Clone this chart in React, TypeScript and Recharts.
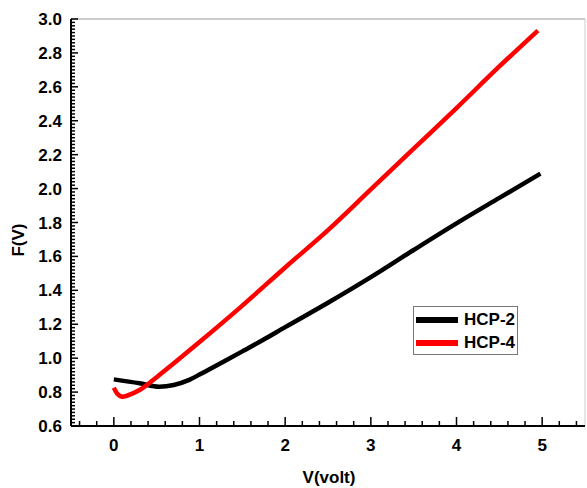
import { LineChart, Line, XAxis, YAxis, ReferenceLine } from "recharts";

// HCP-2 (black)
const hcp2V = [0, 0.3, 0.53, 0.7, 0.88, 1.0, 1.23, 1.5, 1.74, 2.0, 2.5, 3.0, 3.5, 4.0, 4.5, 4.98];
const hcp2F = [0.875, 0.852, 0.832, 0.842, 0.872, 0.903, 0.966, 1.04, 1.107, 1.183, 1.327, 1.478, 1.638, 1.795, 1.945, 2.088];

// HCP-4 (red)
const hcp4V = [0, 0.04, 0.1, 0.16, 0.3, 0.5, 0.75, 1.0, 1.5, 2.0, 2.5, 3.0, 3.5, 4.0, 4.5, 4.95];
const hcp4F = [0.825, 0.79, 0.773, 0.78, 0.812, 0.888, 0.99, 1.095, 1.31, 1.535, 1.755, 1.995, 2.235, 2.475, 2.72, 2.932];

const xLabels = [0, 1, 2, 3, 4, 5];
const yLabels = [0.6, 0.8, 1.0, 1.2, 1.4, 1.6, 1.8, 2.0, 2.2, 2.4, 2.6, 2.8, 3.0];

const hcp2 = hcp2V.map((v, i) => ({ v, f: hcp2F[i] }));
const hcp4 = hcp4V.map((v, i) => ({ v, f: hcp4F[i] }));

// minor ticks: x every 0.2, y every 0.02
const xTicks = Array.from({ length: 30 }, (_, i) => +(-0.4 + i * 0.2).toFixed(2));
const yTicks = Array.from({ length: 121 }, (_, i) => +(0.6 + i * 0.02).toFixed(2));

const FONT = "'Liberation Sans', Arial, sans-serif";

const YTick = (props: any) => {
  const { x, y, payload } = props;
  const v = payload.value;
  const major = yLabels.some((l) => Math.abs(l - v) < 1e-6);
  return (
    <g>
      <line x1={x} x2={x + (major ? 7 : 4)} y1={y} y2={y} stroke="#000" strokeWidth={1.5} />
      {major && (
        <text x={x - 9} y={y + 6} textAnchor="end" fontFamily={FONT} fontWeight="bold" fontSize={17} fill="#000">
          {v.toFixed(1)}
        </text>
      )}
    </g>
  );
};

const XTick = (props: any) => {
  const { x, y, payload } = props;
  const v = payload.value;
  const major = xLabels.some((l) => Math.abs(l - v) < 1e-6);
  return (
    <g>
      <line x1={x} x2={x} y1={y} y2={y - (major ? 9 : 5)} stroke="#000" strokeWidth={1.5} />
      {major && (
        <text x={x} y={y + 25} textAnchor="middle" fontFamily={FONT} fontWeight="bold" fontSize={17} fill="#000">
          {Math.round(v)}
        </text>
      )}
    </g>
  );
};

const YTitle = () => (
  <text x={24} y={240} transform="rotate(-90 24 240)" textAnchor="middle" fontFamily={FONT} fontWeight="bold" fontSize={17} fill="#000">
    F(V)
  </text>
);

const XTitle = () => (
  <text x={329} y={483} textAnchor="middle" fontFamily={FONT} fontWeight="bold" fontSize={17} fill="#000">
    V(volt)
  </text>
);

const legendItems = [
  { name: "HCP-2", color: "#000000" },
  { name: "HCP-4", color: "#ff0000" },
];

export default function App() {
  return (
    <div style={{ position: "absolute", left: 0, top: 0, width: 587, height: 488, background: "#fff" }}>
      <LineChart width={587} height={488} margin={{ top: 19, right: 2, bottom: 0, left: 0 }}>
        <XAxis
          dataKey="v"
          type="number"
          domain={[-0.5, 5.5]}
          ticks={xTicks}
          interval={0}
          tickLine={false}
          tickSize={0}
          tickMargin={0}
          tick={<XTick />}
          axisLine={{ stroke: "#000", strokeWidth: 2 }}
          height={62}
          allowDataOverflow
          label={<XTitle />}
        />
        <YAxis
          type="number"
          domain={[0.6, 3.0]}
          ticks={yTicks}
          interval={0}
          tickLine={false}
          tickSize={0}
          tickMargin={0}
          tick={<YTick />}
          axisLine={{ stroke: "#000", strokeWidth: 2 }}
          width={71}
          allowDataOverflow
          label={<YTitle />}
        />
        <ReferenceLine y={3.0} stroke="#999" strokeWidth={1} />
        <ReferenceLine x={5.5} stroke="#ccc" strokeWidth={1} />
        <Line data={hcp2} dataKey="f" name="HCP-2" type="monotone" stroke="#000" strokeWidth={4.5} dot={false} isAnimationActive={false} />
        <Line data={hcp4} dataKey="f" name="HCP-4" type="monotone" stroke="#ff0000" strokeWidth={4.5} dot={false} isAnimationActive={false} />
      </LineChart>
      <div
        style={{
          position: "absolute",
          left: 413,
          top: 306,
          width: 103,
          height: 47,
          border: "1px solid #777",
          background: "#fff",
          fontFamily: FONT,
          fontWeight: "bold",
          fontSize: 17,
        }}
      >
        {legendItems.map((it, i) => (
          <div key={it.name} style={{ position: "absolute", left: 2, top: 3 + i * 23, height: 20, display: "flex", alignItems: "center" }}>
            <div style={{ width: 42, height: 6, background: it.color }} />
            <span style={{ marginLeft: 6, lineHeight: "20px" }}>{it.name}</span>
          </div>
        ))}
      </div>
    </div>
  );
}
